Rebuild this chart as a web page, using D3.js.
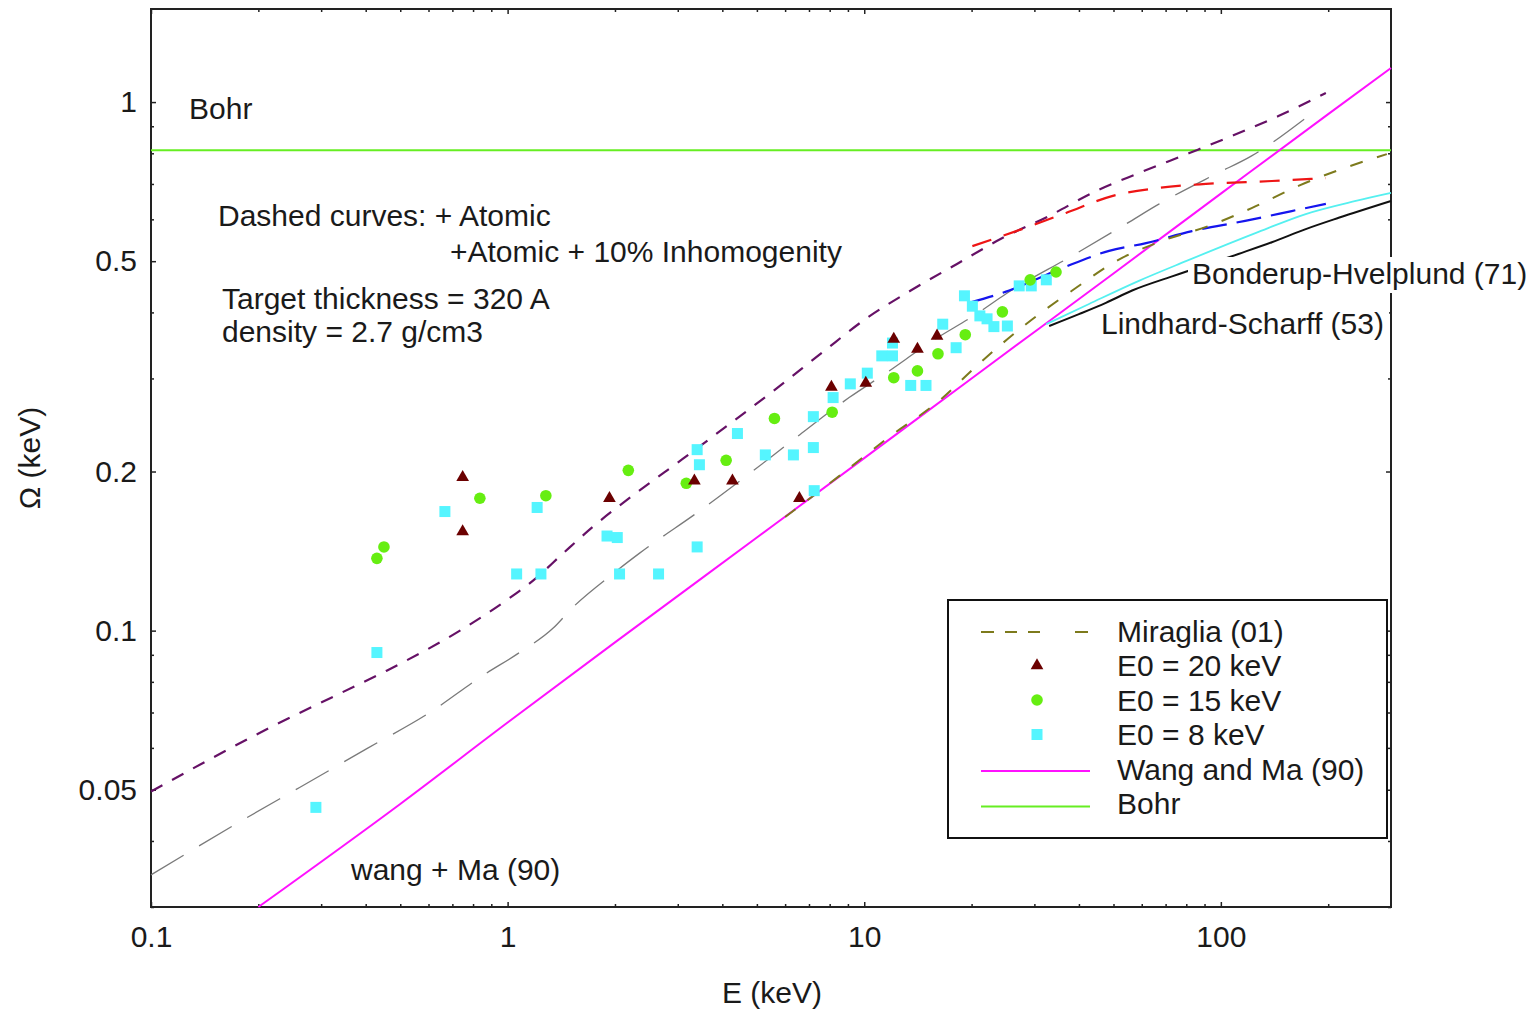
<!DOCTYPE html>
<html>
<head>
<meta charset="utf-8">
<script src="https://cdn.jsdelivr.net/npm/d3@7"></script>
<style>
body { margin: 0; background: #fff; }
text { font-family: "Liberation Sans", Arial, sans-serif; fill: #1a1a1a; }
</style>
</head>
<body>
<svg width="1540" height="1013"></svg>
<script>
// curves, E in keV, omega in keV
const wangE = [0.2, 0.5, 1, 2, 5, 10, 20, 50, 100, 200, 300]
const wangW = [0.030, 0.047, 0.067, 0.095, 0.150, 0.212, 0.300, 0.474, 0.671, 0.949, 1.16]
const bohrE = [0.1, 300]
const bohrW = [0.811, 0.811]
const atomE = [0.1, 0.22, 0.338, 0.458, 0.735, 0.99, 1.19, 1.43, 1.73, 2.34, 3.09, 4.19, 5.67, 7.63, 10.1, 13.5, 18.2, 24.4, 33, 44.7, 58.9, 81.3, 107, 145, 197]
const atomW = [0.0496, 0.066, 0.076, 0.084, 0.100, 0.114, 0.125, 0.140, 0.157, 0.184, 0.211, 0.246, 0.287, 0.336, 0.389, 0.440, 0.494, 0.553, 0.609, 0.679, 0.734, 0.800, 0.862, 0.941, 1.04]
const inhomE = [0.1, 0.186, 0.261, 0.403, 0.605, 0.851, 1.08, 1.34, 1.52, 1.97, 2.34, 3.52, 4.76, 6.29, 9.07, 11.5, 15.5, 20.6, 25, 38.3, 54.2, 67, 96.8, 122, 173]
const inhomW = [0.0345, 0.0443, 0.0505, 0.0598, 0.070, 0.0822, 0.0909, 0.101, 0.1105, 0.128, 0.140, 0.170, 0.198, 0.229, 0.276, 0.307, 0.353, 0.397, 0.434, 0.512, 0.588, 0.641, 0.731, 0.791, 0.933]
const redE = [20.1, 27.7, 36.8, 49.5, 67, 90.8, 139, 197]
const redW = [0.534, 0.575, 0.617, 0.664, 0.688, 0.700, 0.709, 0.718]
const blueE = [19.7, 25.5, 35.9, 48.6, 61.7, 83, 117, 158, 197]
const blueW = [0.417, 0.44, 0.485, 0.523, 0.541, 0.570, 0.596, 0.622, 0.642]
const miragliaE = [6, 8.5, 11.7, 16.2, 21, 28.4, 38.3, 50.8, 68.4, 92.5, 122, 165, 218, 292]
const miragliaW = [0.164, 0.196, 0.232, 0.272, 0.320, 0.380, 0.44, 0.500, 0.546, 0.583, 0.630, 0.694, 0.747, 0.797]
const bonderupE = [32.4, 42.7, 58.9, 79.8, 125, 173, 239, 300]
const bonderupW = [0.380, 0.415, 0.459, 0.500, 0.565, 0.614, 0.650, 0.673]
const lindhardE = [33, 40, 47.6, 56.4, 73, 112, 139, 173, 214, 300]
const lindhardW = [0.377, 0.397, 0.417, 0.44, 0.468, 0.516, 0.543, 0.575, 0.604, 0.65]

// measured points
const e20E = [0.748, 0.748, 1.93, 3.34, 4.27, 6.58, 8.09, 10.1, 12.1, 14.1, 16.0]
const e20W = [0.195, 0.154, 0.178, 0.192, 0.192, 0.178, 0.289, 0.294, 0.356, 0.341, 0.361]
const e15E = [0.43, 0.45, 0.836, 1.28, 2.18, 3.17, 4.1, 5.6, 8.13, 12.1, 14.1, 16.1, 19.2, 24.4, 29.2, 34.5]
const e15W = [0.137, 0.144, 0.178, 0.180, 0.201, 0.190, 0.210, 0.252, 0.259, 0.301, 0.310, 0.334, 0.363, 0.401, 0.461, 0.477]
const e8E = [0.29, 0.43, 0.667, 1.06, 1.21, 1.24, 1.90, 2.03, 2.06, 2.65, 3.40, 3.40, 3.45, 4.41, 5.28, 6.33, 7.2, 7.2, 7.24, 8.18, 9.14, 10.2, 11.2, 12.0, 12.0, 13.5, 14.9, 16.6, 18.1, 19.1, 20.1, 21.1, 22.1, 23.1, 25.2, 27.2, 29.4, 32.4]
const e8W = [0.0463, 0.0909, 0.168, 0.128, 0.171, 0.128, 0.151, 0.150, 0.128, 0.128, 0.144, 0.220, 0.206, 0.236, 0.215, 0.215, 0.222, 0.254, 0.184, 0.276, 0.293, 0.307, 0.331, 0.331, 0.350, 0.291, 0.291, 0.380, 0.343, 0.43, 0.411, 0.394, 0.389, 0.376, 0.377, 0.449, 0.449, 0.461]

const xMajor = [0.1, 1, 10, 100]
const xMinor = [0.2, 0.3, 0.4, 0.5, 0.6, 0.7, 0.8, 0.9, 2, 3, 4, 5, 6, 7, 8, 9, 20, 30, 40, 50, 60, 70, 80, 90, 200]
const yMajor = [0.05, 0.1, 0.2, 0.5, 1]
const yMinor = [0.03, 0.04, 0.06, 0.07, 0.08, 0.09, 0.3, 0.4, 0.6, 0.7, 0.8, 0.9]
const legendNames = ["Miraglia (01)", "E0 = 20 keV", "E0 = 15 keV", "E0 = 8 keV", "Wang and Ma (90)", "Bohr"]

const padL = 151, padR = 1391, padT = 9, padB = 907
const svg = d3.select("svg")

const x = d3.scaleLog().domain([0.1, 300]).range([padL, padR])
const y = d3.scaleLog().domain([0.03, 1.5]).range([padB, padT])

const zip = (a, b) => a.map((v, i) => [v, b[i]])
const line = d3.line().x(d => x(d[0])).y(d => y(d[1])).curve(d3.curveMonotoneX)

// axes, ticks pointing inward on all four sides
function styleAxis(g) {
	g.select(".domain").remove()
	g.selectAll("line").attr("stroke", "#222").attr("stroke-width", 1.5)
	g.selectAll("text").attr("font-size", 30).attr("font-family", "Liberation Sans, Arial, sans-serif").attr("fill", "#1a1a1a")
}
const fmt = d => String(d)
svg.append("g").attr("transform", `translate(0,${padB})`)
	.call(d3.axisBottom(x).tickValues(xMajor).tickSize(-5).tickPadding(19).tickFormat(fmt)).call(styleAxis)
svg.append("g").attr("transform", `translate(0,${padB})`)
	.call(d3.axisBottom(x).tickValues(xMinor).tickSize(-3).tickFormat("")).call(styleAxis)
svg.append("g").attr("transform", `translate(0,${padT})`)
	.call(d3.axisTop(x).tickValues(xMajor).tickSize(-5).tickFormat("")).call(styleAxis)
svg.append("g").attr("transform", `translate(0,${padT})`)
	.call(d3.axisTop(x).tickValues(xMinor).tickSize(-3).tickFormat("")).call(styleAxis)
svg.append("g").attr("transform", `translate(${padL},0)`)
	.call(d3.axisLeft(y).tickValues(yMajor).tickSize(-5).tickPadding(14).tickFormat(fmt)).call(styleAxis)
svg.append("g").attr("transform", `translate(${padL},0)`)
	.call(d3.axisLeft(y).tickValues(yMinor).tickSize(-3).tickFormat("")).call(styleAxis)
svg.append("g").attr("transform", `translate(${padR},0)`)
	.call(d3.axisRight(y).tickValues(yMajor).tickSize(-5).tickFormat("")).call(styleAxis)
svg.append("g").attr("transform", `translate(${padR},0)`)
	.call(d3.axisRight(y).tickValues(yMinor).tickSize(-3).tickFormat("")).call(styleAxis)

svg.append("rect").attr("x", padL).attr("y", padT).attr("width", padR - padL).attr("height", padB - padT)
	.attr("fill", "none").attr("stroke", "#222").attr("stroke-width", 2)

const plot = svg.append("g")
function drawCurve(g, E, W, color, width, dash) {
	g.append("path")
		.attr("d", line(zip(E, W)))
		.attr("fill", "none")
		.attr("stroke", color)
		.attr("stroke-width", width)
		.attr("stroke-dasharray", dash || null)
}

// curves
drawCurve(plot, bohrE, bohrW, "#66ee22", 2)
drawCurve(plot, wangE, wangW, "#ff11ff", 2)
drawCurve(plot, inhomE, inhomW, "#7a7a7a", 1.3, "38,18")
drawCurve(plot, atomE, atomW, "#661166", 2.2, "13,11")
drawCurve(plot, redE, redW, "#ee1515", 2.2, "20,13")
drawCurve(plot, blueE, blueW, "#1515ee", 2.2, "25,10")
drawCurve(plot, miragliaE, miragliaW, "#7d7a1c", 2, "13,15")
drawCurve(plot, lindhardE, lindhardW, "#111", 2)

// curve labels with white backing (they cover the frame too)
svg.append("rect").attr("x", 1188).attr("y", 257).attr("width", 346).attr("height", 36).attr("fill", "#fff")
svg.append("text").attr("x", 1192).attr("y", 284).attr("font-size", 30).text("Bonderup-Hvelplund (71)")
svg.append("rect").attr("x", 1099).attr("y", 307).attr("width", 290).attr("height", 36).attr("fill", "#fff")
svg.append("text").attr("x", 1101).attr("y", 334).attr("font-size", 30).text("Lindhard-Scharff (53)")

drawCurve(svg, bonderupE, bonderupW, "#55f0f0", 1.8)

// points
const pts = svg.append("g")
pts.selectAll(".sq").data(zip(e8E, e8W)).join("rect")
	.attr("x", d => x(d[0]) - 5.5).attr("y", d => y(d[1]) - 5.5)
	.attr("width", 11).attr("height", 11).attr("fill", "#55f5ff")
pts.selectAll(".ci").data(zip(e15E, e15W)).join("circle")
	.attr("cx", d => x(d[0])).attr("cy", d => y(d[1])).attr("r", 5.8).attr("fill", "#66ee11")
const tri = d3.symbol().type(d3.symbolTriangle).size(70)
pts.selectAll(".tr").data(zip(e20E, e20W)).join("path")
	.attr("transform", d => `translate(${x(d[0])},${y(d[1])})`)
	.attr("d", tri).attr("fill", "#6b0000")

// annotations
const notes = [
	["Bohr", 189, 119],
	["Dashed curves: + Atomic", 218, 226],
	["+Atomic + 10% Inhomogenity", 450, 262],
	["Target thickness = 320 A", 222, 309],
	["density = 2.7 g/cm3", 222, 342],
	["wang + Ma (90)", 351, 880]
]
notes.forEach(n => svg.append("text").attr("x", n[1]).attr("y", n[2]).attr("font-size", 30).text(n[0]))

svg.append("text").attr("x", 772).attr("y", 1003).attr("text-anchor", "middle").attr("font-size", 30).text("E (keV)")
svg.append("text").attr("transform", "translate(40,458) rotate(-90)").attr("text-anchor", "middle")
	.attr("font-size", 30).text("\u03a9 (keV)")

// legend
const lg = svg.append("g")
lg.append("rect").attr("x", 948).attr("y", 600).attr("width", 439).attr("height", 238)
	.attr("fill", "#fff").attr("stroke", "#111").attr("stroke-width", 2)
const rowY = i => 631 + 34.5 * i
legendNames.forEach((name, i) => {
	lg.append("text").attr("x", 1117).attr("y", rowY(i) + 10.5).attr("font-size", 30).text(name)
})
lg.append("line").attr("x1", 981).attr("x2", 1090).attr("y1", rowY(0) + 1).attr("y2", rowY(0) + 1)
	.attr("stroke", "#7d7a1c").attr("stroke-width", 2).attr("stroke-dasharray", "13,11,12,11,12,35")
lg.append("path").attr("transform", `translate(1037,${rowY(1)})`).attr("d", tri).attr("fill", "#6b0000")
lg.append("circle").attr("cx", 1037).attr("cy", rowY(2)).attr("r", 5.8).attr("fill", "#66ee11")
lg.append("rect").attr("x", 1031.5).attr("y", rowY(3) - 5.5).attr("width", 11).attr("height", 11).attr("fill", "#55f5ff")
lg.append("line").attr("x1", 981).attr("x2", 1090).attr("y1", rowY(4) + 2).attr("y2", rowY(4) + 2)
	.attr("stroke", "#ff11ff").attr("stroke-width", 2)
lg.append("line").attr("x1", 981).attr("x2", 1090).attr("y1", rowY(5) + 3).attr("y2", rowY(5) + 3)
	.attr("stroke", "#66ee22").attr("stroke-width", 2)
</script>
</body>
</html>
